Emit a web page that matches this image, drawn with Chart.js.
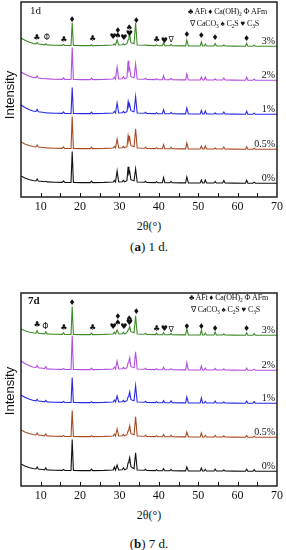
<!DOCTYPE html>
<html>
<head>
<meta charset="utf-8">
<script src="https://cdn.jsdelivr.net/npm/chart.js@4.4.1/dist/chart.umd.min.js"></script>
<style>
body { margin: 0; background: #fff; }
#wrap { position: relative; width: 286px; height: 550px; overflow: hidden; font-family: "Liberation Serif", "Times New Roman", serif; color: #111; }
canvas { position: absolute; left: 0; }
.c { position: absolute; white-space: nowrap; line-height: 1; transform: translate(-50%, -50%); }
.leg { position: absolute; white-space: nowrap; line-height: 1; font-size: 8px; letter-spacing: -0.15px; }
.leg sub { font-size: 5.5px; vertical-align: -2px; line-height: 0; }
.ylab { position: absolute; white-space: nowrap; line-height: 1; font: 13px "Liberation Sans", Arial, sans-serif; transform: translate(-50%, -50%) rotate(-90deg); }
.tag { position: absolute; line-height: 1; font-size: 11px; }
</style>
</head>
<body>
<div id="wrap">
  <canvas id="xrd1d" width="286" height="215" style="top:0px"></canvas>
  <canvas id="xrd7d" width="286" height="234" style="top:270px"></canvas>

  <div class="tag" style="left:30px;top:5px">1d</div>
  <div class="leg" style="left:188px;top:8px">♣ AFt ♦ Ca(OH)<sub>2</sub> Φ AFm</div>
  <div class="leg" style="left:190px;top:20px">∇ CaCO<sub>3</sub> ♠ C<sub>2</sub>S ♥ C<sub>3</sub>S</div>
  <div class="ylab" style="left:9px;top:95px">Intensity</div>
  <div class="c" style="left:149px;top:226px;font-size:12px">2θ(°)</div>
  <div class="c" style="left:149px;top:246px;font-size:13px">(<b>a</b>) 1 d.</div>

  <div class="tag" style="left:28px;top:295px;font-weight:bold">7d</div>
  <div class="leg" style="left:189px;top:294px">♣ AFt ♦ Ca(OH)<sub>2</sub> Φ AFm</div>
  <div class="leg" style="left:191px;top:306px">∇ CaCO<sub>3</sub> ♠ C<sub>2</sub>S ♥ C<sub>3</sub>S</div>
  <div class="ylab" style="left:9px;top:391px">Intensity</div>
  <div class="c" style="left:149px;top:515px;font-size:12px">2θ(°)</div>
  <div class="c" style="left:149px;top:543px;font-size:13px">(<b>b</b>) 7 d.</div>
</div>
<script>
// 2theta grid shared by all patterns
var theta = [5,6,7,8,8.8,9.1,9.4,10.5,11.0,11.3,
  11.6,13.5,15.5,15.8,16.1,17.7,18.0,18.3,20.5,22.6,
  22.9,23.2,26.0,28.4,28.7,29.0,29.4,29.8,30.7,31.0,
  31.3,31.9,32.2,32.4,32.6,32.9,33.7,34.1,34.5,36.3,
  36.6,36.9,39.1,39.4,39.7,40.9,41.2,41.5,42.8,43.1,
  43.4,45.5,46.8,47.1,47.5,50.5,50.8,51.1,51.5,51.8,
  52.1,54.0,54.3,54.6,56.2,56.5,56.8,59.0,62.0,62.3,
  62.6,63.9,64.2,64.5,67.0,70.0];

var dosage = ['3%', '2%', '1%', '0.5%', '0%'];
var lineColors = ['#3f8a2a', '#b24fe0', '#2a2ae6', '#a84a24', '#111111'];

// 1 day
var d1_3 = [18,15.8,14,12.8,12.2,13.7,12,11.5,11.2,12.2,
  11.1,10.8,10.6,11.6,10.6,10.5,33.5,10.5,10.4,10.4,
  11.4,10.4,10.6,11,12,11,16,11,11.2,12.2,
  11.2,12.3,16.3,19.3,22.3,13.3,12.2,33.2,11,10.7,
  11.2,10.6,10.4,11.4,10.4,10.3,13.3,10.3,10.2,11.7,
  10.2,10.1,10.1,16.1,10.1,10,14,10,10,12,
  10,10,12.5,10,10,11,10,9.9,9.8,12.8,
  9.8,9.8,10.8,9.8,9.8,9.7];
var d1_2 = [18,15.8,14,12.8,12.2,14.2,12,11.5,11.2,11.7,
  11.1,10.8,10.6,12.1,10.6,10.5,42.5,10.5,10.4,10.4,
  11.9,10.4,10.6,11,13,11,23,11,11.2,13.2,
  11.2,12.3,29.3,19.3,21.3,13.3,12.2,26.2,11,10.7,
  11.7,10.6,10.4,11.4,10.4,10.3,14.3,10.3,10.2,11.7,
  10.2,10.1,10.1,16.1,10.1,10,13,10,10,13,
  10,10,11,10,10,12,10,9.9,9.8,12.8,
  9.8,9.8,10.8,9.8,9.8,9.7];
var d1_1 = [19,16.5,14.5,13,12.5,14.5,12.2,11.7,11.3,11.3,
  11.1,10.8,10.6,12.1,10.6,10.5,36.5,10.5,10.4,10.4,
  11.9,10.4,10.6,11,12.5,11,21,11,11.2,12.7,
  11.2,12.3,22.3,17.3,19.3,13.3,12.2,27.2,11,10.7,
  11.7,10.6,10.4,11.4,10.4,10.3,14.3,10.3,10.2,11.7,
  10.2,10.1,10.1,16.1,10.1,10,13.5,10,10,13,
  10,10,11,10,10,12,10,9.9,9.8,12.8,
  9.8,9.8,10.8,9.8,9.8,9.7];
var d1_05 = [17,15,13.5,12.5,12,14,12,11.5,11.2,11.2,
  11.1,10.8,10.6,12.1,10.6,10.5,42.5,10.5,10.4,10.4,
  11.9,10.4,10.6,11,12.5,11,20,11,11.2,12.7,
  11.2,12.3,23.3,18.3,21.3,13.3,12.2,30.2,11,10.7,
  11.7,10.6,10.4,11.4,10.4,10.3,14.3,10.3,10.2,11.7,
  10.2,10.1,10.1,16.1,10.1,10,13,10,10,13,
  10,10,11,10,10,12,10,9.9,9.8,12.3,
  9.8,9.8,10.8,9.8,9.8,9.7];
var d1_0 = [17,15,13.5,12.5,12,14,12,11.5,11.2,11.7,
  11.1,10.8,10.6,12.1,10.6,10.5,41.5,10.5,10.4,10.4,
  11.9,10.4,10.6,11,12.5,11,22,11,11.2,12.7,
  11.2,12.3,26.3,19.3,21.3,13.3,12.2,24.2,11,10.7,
  11.7,10.6,10.4,11.4,10.4,10.3,15.3,10.3,10.2,11.7,
  10.2,10.1,10.1,16.1,10.1,10,13,10,10,13,
  10,10,11.5,10,10,12.5,10,9.9,9.8,12.8,
  9.8,9.8,10.8,9.8,9.8,9.7];

// 7 days
var d7_3 = [16,14.3,13,12.2,11.8,14.3,11.7,11.3,11.1,13.1,
  11.1,10.8,10.6,12.1,10.6,10.5,38.5,10.5,10.4,10.4,
  11.9,10.4,10.6,11,13,11,15,11,11.2,12.7,
  11.2,12.3,15.3,16.3,18.3,13.3,12.2,29.2,11,10.7,
  11.7,10.6,10.4,11.9,10.4,10.3,12.3,10.3,10.2,11.7,
  10.2,10.1,10.1,16.1,10.1,10,15,10,10,12,
  10,10,13,10,10,11,10,9.9,9.8,12.3,
  9.8,9.8,11.3,9.8,9.8,9.7];
var d7_2 = [19,16.5,14.5,13,12.5,14.5,12.2,11.7,11.3,13.3,
  11.1,10.8,10.6,11.6,10.6,10.5,44.5,10.5,10.4,10.4,
  11.9,10.4,10.6,11,13,11,19,11,11.2,12.7,
  11.2,12.3,17.3,19.3,22.3,13.3,12.2,28.2,11,10.7,
  11.7,10.6,10.4,11.4,10.4,10.3,12.8,10.3,10.2,11.2,
  10.2,10.1,10.1,17.1,10.1,10,14,10,10,12,
  10,10,11.5,10,10,11,10,9.9,9.8,11.8,
  9.8,9.8,10.8,9.8,9.8,9.7];
var d7_1 = [18,15.8,14,12.8,12.2,13.7,12,11.5,11.2,12.7,
  11.1,10.8,10.6,11.6,10.6,10.5,35.5,10.5,10.4,10.4,
  11.4,10.4,10.6,11,13,11,17,11,11.2,12.7,
  11.2,12.3,16.3,18.3,21.3,13.3,12.2,27.2,11,10.7,
  11.7,10.6,10.4,11.4,10.4,10.3,12.3,10.3,10.2,12.2,
  10.2,10.1,10.1,16.1,10.1,10,15,10,10,11.5,
  10,10,12,10,10,11,10,9.9,9.8,11.8,
  9.8,9.8,11.3,9.8,9.8,9.7];
var d7_05 = [17,15,13.5,12.5,12,14,12,11.5,11.2,13.2,
  11.1,10.8,10.6,11.6,10.6,10.5,36.5,10.5,10.4,10.4,
  11.4,10.4,10.6,11,13,11,18,11,11.2,12.7,
  11.2,12.3,16.3,18.3,21.3,13.3,12.2,30.2,11,10.7,
  11.7,10.6,10.4,11.4,10.4,10.3,12.3,10.3,10.2,11.7,
  10.2,10.1,10.1,15.1,10.1,10,14,10,10,11.5,
  10,10,11.5,10,10,11,10,9.9,9.8,11.3,
  9.8,9.8,10.8,9.8,9.8,9.7];
var d7_0 = [17,15,13.5,12.5,12,14,12,11.5,11.2,13.2,
  11.1,10.8,10.6,11.6,10.6,10.5,41.5,10.5,10.4,10.4,
  11.9,10.4,10.6,11,14,11,16,11,11.2,13.2,
  11.2,12.3,18.3,20.3,23.3,14.3,12.2,28.2,11,10.7,
  11.7,10.6,10.4,11.4,10.4,10.3,12.3,10.3,10.2,11.7,
  10.2,10.1,10.1,14.1,10.1,10,13,10,10,11.5,
  10,10,12,10,10,11,10,9.9,9.8,11.8,
  9.8,9.8,11.3,9.8,9.8,9.7];

// vertical stacking of the patterns
var offsets1d = [141, 107, 73, 38, 4];
var offsets7d = [141, 106, 73, 39, 5];

// phase marks above the 3% pattern
var markSym = ['♣','Φ','♣','♦','♣','♥','♦','♠','♥','♠','♥','♦','♣','♥','∇','♦','♦','♦','♦'];
var mark1dX = [9.0,11.6,15.9,18.0,23.2,28.4,29.6,29.6,31.1,32.5,32.5,34.3,39.4,41.4,43.1,47.1,50.8,54.3,62.3];
var mark1dY = [159,159,157,177,158,160,166,161,159,169,163,176,157,156,157,162,161,159,158];
var mark7dX = [9.1,11.2,15.9,18.0,23.2,28.4,29.6,29.6,31.1,32.5,32.5,34.3,39.4,41.4,43.1,47.1,50.8,54.3,62.3];
var mark7dY = [161,159,158,183,158,159,169,163,159,167,163,174,157,157,156,159,159,157,157];

function decoPlugin(offsets, markX, markY) {
  return {
    id: 'xrdDeco',
    afterDatasetsDraw: function (chart) {
      var ctx = chart.ctx, a = chart.chartArea;
      var xs = chart.scales.x, ys = chart.scales.y;
      ctx.save();
      // inward ticks on the bottom axis
      ctx.strokeStyle = '#111';
      ctx.lineWidth = 1;
      for (var v = 10; v < 70; v += 5) {
        var px = Math.round(xs.getPixelForValue(v)) + 0.5;
        ctx.beginPath();
        ctx.moveTo(px, a.bottom);
        ctx.lineTo(px, a.bottom - 4);
        ctx.stroke();
      }
      // frame
      ctx.lineWidth = 1.4;
      ctx.strokeRect(a.left, a.top, a.right - a.left, a.bottom - a.top);
      // dosage labels
      ctx.fillStyle = '#111';
      ctx.font = '10px "Liberation Serif", serif';
      ctx.textAlign = 'right';
      ctx.textBaseline = 'middle';
      for (var i = 0; i < dosage.length; i++) {
        ctx.fillText(dosage[i], a.right - 2, ys.getPixelForValue(offsets[i] + 10) - 5);
      }
      // phase symbols
      ctx.font = '8px "DejaVu Sans", sans-serif';
      ctx.textAlign = 'center';
      for (var k = 0; k < markSym.length; k++) {
        ctx.fillText(markSym[k], xs.getPixelForValue(markX[k]), ys.getPixelForValue(markY[k]));
      }
      ctx.restore();
    }
  };
}

function makeChart(id, series, offsets, yMax, padTop, markX, markY) {
  var sets = series.map(function (s, i) {
    return {
      label: dosage[i],
      data: theta.map(function (t, j) { return { x: t, y: s[j] + offsets[i] }; }),
      borderColor: lineColors[i],
      borderWidth: 1.1,
      pointRadius: 0,
      tension: 0,
      fill: false
    };
  });
  return new Chart(document.getElementById(id), {
    type: 'line',
    data: { datasets: sets },
    options: {
      responsive: false,
      animation: false,
      layout: { padding: { left: 21, right: 9, top: padTop, bottom: 0 } },
      plugins: { legend: { display: false }, tooltip: { enabled: false } },
      scales: {
        x: {
          type: 'linear', min: 5, max: 70,
          grid: { display: false, drawTicks: false },
          border: { display: false },
          ticks: {
            stepSize: 5, autoSkip: false, maxRotation: 0, padding: 3,
            color: '#111',
            font: { family: 'Liberation Serif', size: 12 },
            callback: function (v) { return v % 10 === 0 ? v : ''; }
          },
          afterFit: function (s) { s.height = 18; }
        },
        y: { display: false, min: 0, max: yMax }
      }
    },
    plugins: [decoPlugin(offsets, markX, markY)]
  });
}

makeChart('xrd1d', [d1_3, d1_2, d1_1, d1_05, d1_0], offsets1d, 195, 2, mark1dX, mark1dY);
makeChart('xrd7d', [d7_3, d7_2, d7_1, d7_05, d7_0], offsets7d, 193, 23, mark7dX, mark7dY);
</script>
</body>
</html>
